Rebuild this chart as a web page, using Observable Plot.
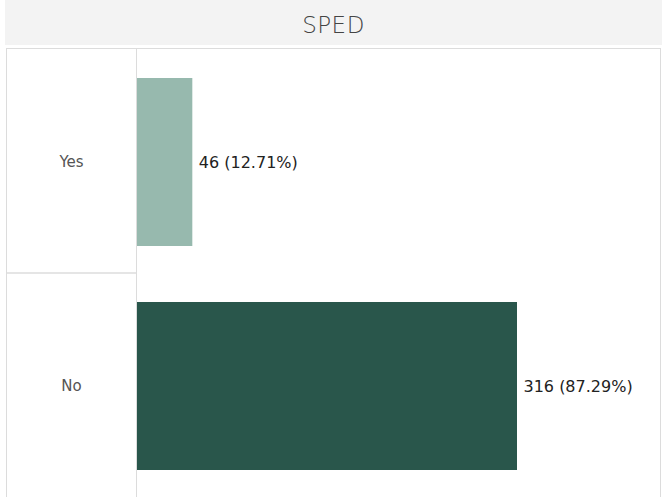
<!DOCTYPE html>
<html><head><meta charset="utf-8">
<script src="https://cdn.jsdelivr.net/npm/d3@7"></script>
<script src="https://cdn.jsdelivr.net/npm/@observablehq/plot@0.6"></script>
<style>
html,body{margin:0;padding:0;background:#fff;font-family:"DejaVu Sans",sans-serif;overflow:hidden;}
#header{position:absolute;left:5px;top:0;width:657px;height:45px;background:#f3f3f3;color:#444;font-size:23px;letter-spacing:0.5px;font-weight:300;display:flex;align-items:center;justify-content:center;padding-top:4px;box-sizing:border-box;}
#chart{position:absolute;left:0;top:48px;}
#box{position:absolute;left:6px;top:48px;width:653px;height:460px;border:1px solid #dcdcdc;border-bottom:none;pointer-events:none;}
</style></head><body>
<div id="header"></div>
<div id="chart"></div>
<div id="box"></div>
<script>
const title = "SPED";
const categories = ["Yes", "No"];
const counts = [46, 316];
const percents = [12.71, 87.29];
const barColors = ["#97b9ae", "#29564b"];

document.getElementById("header").textContent = title;

const data = categories.map((c, i) => ({cat: c, count: counts[i], pct: percents[i]}));

const W = 662, H = 449;
const yOpts = {domain: categories, range: [0, 452], paddingInner: 0.25, paddingOuter: 0.13, align: 0.5};
const yScale = Plot.scale({y: {type: "band", ...yOpts}});
const step = yScale.step;

const chart = Plot.plot({
  width: W,
  height: H,
  marginLeft: 137,
  marginRight: 145,
  marginTop: 0,
  marginBottom: 0,
  style: {fontFamily: "DejaVu Sans, sans-serif", background: "transparent", overflow: "visible"},
  x: {domain: [0, d3.max(counts)], axis: null},
  y: {type: "band", ...yOpts, axis: null},
  color: {domain: categories, range: barColors},
  marks: [
    Plot.barX(data, {y: "cat", x: "count", fill: "cat"}),
    Plot.ruleX([0], {dx: -1, stroke: "#dcdcdc", strokeWidth: 1}),
    Plot.ruleY([categories[0]], {dy: step / 2 - 2, insetLeft: -131, insetRight: 381, stroke: "#dcdcdc", strokeWidth: 1.5}),
    Plot.text(data, {
      y: "cat", x: "count",
      text: d => `${d.count} (${d.pct.toFixed(2)}%)`,
      textAnchor: "start", dx: 6, fontSize: 16, fill: "#222"
    }),
    Plot.text(data, {
      y: "cat", text: "cat", frameAnchor: "left", dx: -66,
      textAnchor: "middle", fontSize: 15, fill: "#555", letterSpacing: 1.5
    })
  ]
});
document.getElementById("chart").appendChild(chart);
</script>
</body></html>
